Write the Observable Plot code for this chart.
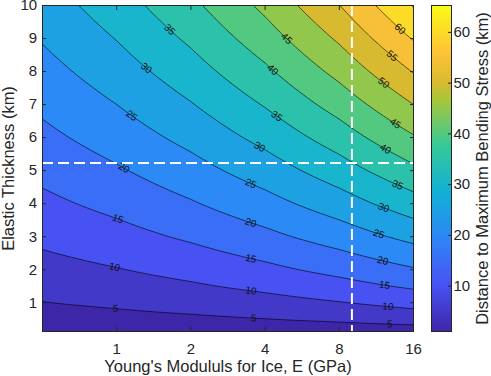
<!DOCTYPE html>
<html>
<head>
<meta charset="utf-8">
<script src="https://cdn.jsdelivr.net/npm/d3@7"></script>
<script src="https://cdn.jsdelivr.net/npm/@observablehq/plot@0.6"></script>
<style>
  html, body { margin: 0; padding: 0; background: #fff; }
  #wrap { position: relative; width: 491px; height: 376px; overflow: hidden; }
  #wrap svg { position: absolute; top: 0; max-width: none; }
</style>
</head>
<body>
<div id="wrap"></div>
<script>
// ---------------- data ----------------
const youngsModulusGPa = [0.5, 1, 2, 4, 8, 16];
const thicknessKm = [0.13, 0.25, 0.5, 0.75, 1, 1.5, 2, 3, 4, 5, 6, 7, 8, 9, 10];
// distance to maximum bending stress (km); rows = thickness, columns = modulus
const distanceKm = [
  [1.06, 1.26, 1.50, 1.78, 2.11, 2.51],
  [1.73, 2.05, 2.44, 2.90, 3.45, 4.11],
  [2.90, 3.45, 4.11, 4.88, 5.81, 6.90],
  [3.94, 4.68, 5.57, 6.62, 7.87, 9.36],
  [4.88, 5.81, 6.90, 8.21, 9.76, 11.61],
  [6.62, 7.87, 9.36, 11.13, 13.24, 15.74],
  [8.21, 9.76, 11.61, 13.81, 16.42, 19.53],
  [11.13, 13.24, 15.74, 18.72, 22.26, 26.47],
  [13.81, 16.42, 19.53, 23.22, 27.62, 32.84],
  [16.32, 19.41, 23.09, 27.45, 32.65, 38.83],
  [18.72, 22.26, 26.47, 31.48, 37.43, 44.52],
  [21.01, 24.99, 29.71, 35.34, 42.02, 49.97],
  [23.22, 27.62, 32.84, 39.06, 46.45, 55.24],
  [25.37, 30.17, 35.88, 42.67, 50.74, 60.34],
  [27.45, 32.65, 38.83, 46.17, 54.91, 65.30]
];
const fillLevels = [0, 5, 10, 15, 20, 25, 30, 35, 40, 45, 50, 55, 60, 65];
const lineLevels = [5, 10, 15, 20, 25, 30, 35, 40, 45, 50, 55, 60, 65];
// contour labels: level and the modulus at which the label sits
const labelLevel   = [5, 10, 15, 20, 25, 30, 35,
                      5, 10, 15, 20, 25, 30, 35, 40, 45,
                      5, 10, 15, 20, 25, 30, 35, 40, 45, 50, 55, 60];
const labelModulus = [0.99, 0.98, 1.01, 1.07, 1.15, 1.32, 1.64,
                      3.6, 3.5, 3.5, 3.5, 3.5, 3.8, 4.46, 4.29, 4.89,
                      12.8, 12.6, 12.2, 12.0, 11.56, 12.1, 13.8, 12.3, 13.5, 12.1, 13.1, 14.1];
const referenceModulusGPa = 9.0;
const referenceThicknessKm = 5.23;
const xTicks = [1, 2, 4, 8, 16];
const yTicks = [1, 2, 3, 4, 5, 6, 7, 8, 9, 10];
const colorbarTicks = [10, 20, 30, 40, 50, 60];
const xLabel = "Young's Modululs for Ice, E (GPa)";
const yLabel = "Elastic Thickness (km)";
const cLabel = "Distance to Maximum Bending Stress (km)";

// ---------------- styling ----------------
const W = 491, H = 376;
const mL = 42, mR = 78, mT = 5, mB = 45;
const font = "'Liberation Sans', Arial, Helvetica, sans-serif";
const ink = "#262626";
const parulaPos = [0, 1/7, 2/7, 3/7, 4/7, 5/7, 0.762, 6/7, 1];
const parulaStops = ["#3e26a8", "#4852f4", "#2d87f7", "#12b1d6", "#37c897", "#abc739", "#d8ba30", "#fec338", "#f9fb15"];
const parulaScale = d3.scaleLinear().domain(parulaPos).range(parulaStops).clamp(true);
const parula = t => parulaScale(t);

const xDomain = [youngsModulusGPa[0], youngsModulusGPa[youngsModulusGPa.length - 1]];
const yDomain = [thicknessKm[0], thicknessKm[thicknessKm.length - 1]];
const dMin = d3.min(distanceKm.flat()), dMax = d3.max(distanceKm.flat());

// bilinear lookup in the table (log2 modulus, thickness)
const lx = youngsModulusGPa.map(Math.log2);
function distanceAt(E, h) {
  const u = Math.log2(E);
  const i = Math.max(0, Math.min(lx.length - 2, d3.bisectRight(lx, u) - 1));
  const j = Math.max(0, Math.min(thicknessKm.length - 2, d3.bisectRight(thicknessKm, h) - 1));
  const tx = (u - lx[i]) / (lx[i + 1] - lx[i]);
  const ty = (h - thicknessKm[j]) / (thicknessKm[j + 1] - thicknessKm[j]);
  const a = distanceKm[j][i], b = distanceKm[j][i + 1];
  const c = distanceKm[j + 1][i], d = distanceKm[j + 1][i + 1];
  return (1 - ty) * ((1 - tx) * a + tx * b) + ty * ((1 - tx) * c + tx * d);
}
function thicknessFor(level, E) {
  let lo = yDomain[0], hi = yDomain[1];
  for (let k = 0; k < 60; k++) {
    const mid = (lo + hi) / 2;
    if (distanceAt(E, mid) < level) lo = mid; else hi = mid;
  }
  return (lo + hi) / 2;
}

const xs = d3.scaleLog().domain(xDomain).range([mL, W - mR]);
const ys = d3.scaleLinear().domain(yDomain).range([H - mB, mT]);
const labels = labelLevel.map((level, i) => {
  const E = labelModulus[i];
  const h = thicknessFor(level, E);
  const E1 = E / 1.04, E2 = E * 1.04;
  const x1 = xs(E1), y1 = ys(thicknessFor(level, E1));
  const x2 = xs(E2), y2 = ys(thicknessFor(level, E2));
  return {level, E, h, angle: Math.atan2(y2 - y1, x2 - x1) * 180 / Math.PI};
});

const mainPlot = Plot.plot({
  width: W, height: H,
  marginLeft: mL, marginRight: mR, marginTop: mT, marginBottom: mB,
  style: {fontFamily: font, color: ink, background: "white", overflow: "visible"},
  x: {type: "log", base: 2, domain: xDomain},
  y: {type: "linear", domain: yDomain},
  color: {type: "linear", domain: [dMin, dMax], interpolate: () => parula, clamp: true},
  marks: [
    Plot.contour({
      fill: distanceAt,
      x1: xDomain[0], x2: xDomain[1], y1: yDomain[0], y2: yDomain[1],
      thresholds: fillLevels, pixelSize: 1, stroke: "none"
    }),
    Plot.contour({
      value: distanceAt,
      x1: xDomain[0], x2: xDomain[1], y1: yDomain[0], y2: yDomain[1],
      thresholds: lineLevels, pixelSize: 1,
      fill: "none", stroke: "#000", strokeWidth: 0.6, ariaLabel: "isolines"
    }),
    Plot.text(labels, {
      x: "E", y: "h", text: d => String(d.level), rotate: "angle",
      fontSize: 10, fill: "#111"
    }),
    Plot.ruleY([referenceThicknessKm], {stroke: "white", strokeWidth: 2, strokeDasharray: "11,5"}),
    Plot.ruleX([referenceModulusGPa], {stroke: "white", strokeWidth: 2, strokeDasharray: "11,5"}),
    Plot.axisX(xTicks, {anchor: "bottom", tickSize: -4, tickPadding: 16.3, fontSize: 15,
      tickFormat: d => String(d), label: null, stroke: ink}),
    Plot.axisX(xTicks, {anchor: "top", tickSize: -4, tickFormat: () => "", label: null, stroke: ink}),
    Plot.axisY(yTicks, {anchor: "left", tickSize: -4, tickPadding: 9.3, fontSize: 15,
      tickFormat: d => String(d), label: null, stroke: ink}),
    Plot.axisY(yTicks, {anchor: "right", tickSize: -4, tickFormat: () => "", label: null, stroke: ink}),
    Plot.frame({stroke: ink, strokeWidth: 1}),
    Plot.text([xLabel], {text: d => d, frameAnchor: "bottom", lineAnchor: "middle", textAnchor: "middle",
      dy: 35.4, fontSize: 16.5, fill: ink}),
    Plot.text([yLabel], {text: d => d, frameAnchor: "left", lineAnchor: "middle", textAnchor: "middle",
      dx: -34, rotate: -90, fontSize: 16.5, fill: ink})
  ]
});

// break the isolines where the labels sit
(function () {
  const sx = mainPlot.scale("x"), sy = mainPlot.scale("y");
  const svg = d3.select(mainPlot);
  const mask = svg.append("defs").append("mask")
    .attr("id", "label-gaps").attr("maskUnits", "userSpaceOnUse")
    .attr("x", 0).attr("y", 0).attr("width", W).attr("height", H);
  mask.append("rect").attr("width", W).attr("height", H).attr("fill", "white");
  for (const l of labels) {
    const w = String(l.level).length * 5.6 + 7, hh = 9;
    mask.append("rect")
      .attr("x", -w / 2).attr("y", -hh / 2).attr("width", w).attr("height", hh)
      .attr("transform", `translate(${sx.apply(l.E)},${sy.apply(l.h)}) rotate(${l.angle})`)
      .attr("fill", "black");
  }
  svg.select('g[aria-label="isolines"]').attr("mask", "url(#label-gaps)");
})();

const cbL = 11, cbR = 40, cbW = 71;
const colorbar = Plot.plot({
  width: cbW, height: H,
  marginLeft: cbL, marginRight: cbR, marginTop: mT, marginBottom: mB,
  style: {fontFamily: font, color: ink, background: "transparent", overflow: "visible"},
  x: {domain: [0, 1], axis: null},
  y: {domain: [dMin, dMax], axis: null},
  color: {type: "linear", domain: [dMin, dMax], interpolate: () => parula, clamp: true},
  marks: [
    Plot.raster({fill: (x, y) => y, x1: 0, x2: 1, y1: dMin, y2: dMax, pixelSize: 1}),
    Plot.axisY(colorbarTicks, {anchor: "right", tickSize: -4, tickPadding: 6, fontSize: 15,
      tickFormat: d => String(d), label: null, stroke: ink}),
    Plot.frame({stroke: ink, strokeWidth: 1}),
    Plot.text([cLabel], {text: d => d, frameAnchor: "right", lineAnchor: "middle", textAnchor: "middle",
      dx: 31, rotate: -90, fontSize: 16.5, fill: ink})
  ]
});

const wrap = document.getElementById("wrap");
mainPlot.style.left = "0px";
colorbar.style.left = (431 - cbL) + "px";
wrap.appendChild(mainPlot);
wrap.appendChild(colorbar);
</script>
</body>
</html>
